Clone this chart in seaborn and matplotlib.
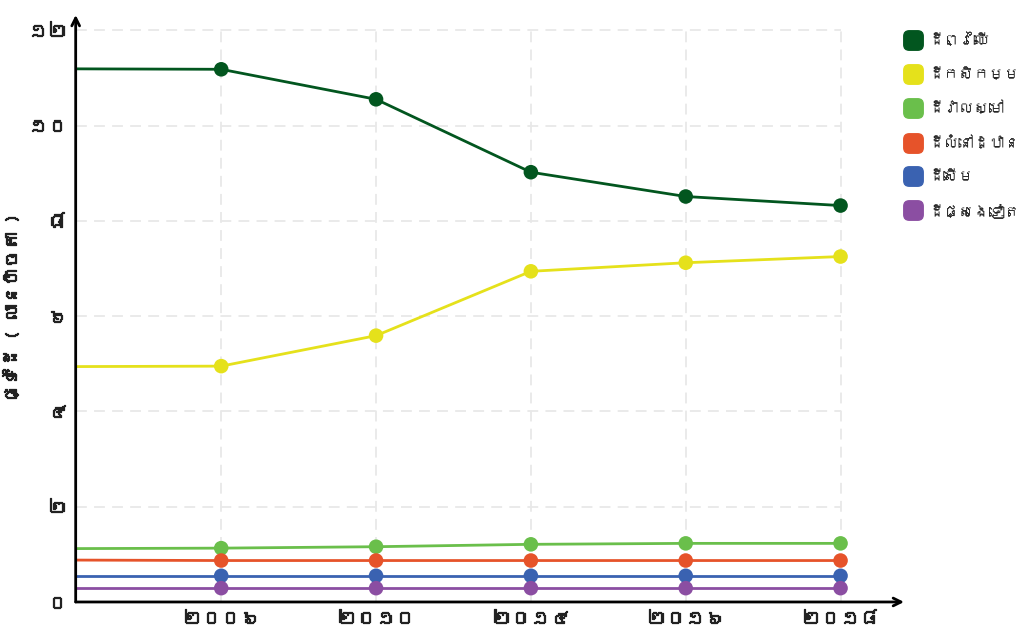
import numpy as np
import pandas as pd
import matplotlib
matplotlib.use("Agg")
import matplotlib.pyplot as plt
import matplotlib.patches as mpatches
import matplotlib.patheffects as pe
from matplotlib import font_manager
from matplotlib.ft2font import FT2Font
from matplotlib.lines import Line2D
import seaborn as sns

# ---- data ----
years = ["", "២០០៦", "២០១០", "២០១៤", "២០១៦", "២០១៨"]
series_names = ["ដីព្រៃឈើ", "ដីកសិកម្ម", "ដីវាលស្មៅ", "ដីលំនៅដ្ឋាន", "ដីសើម", "ដីផ្សេងទៀត"]
forest = [11.19, 11.18, 10.55, 9.02, 8.51, 8.32]
agri = [4.94, 4.95, 5.59, 6.94, 7.12, 7.25]
grass = [1.12, 1.13, 1.16, 1.21, 1.23, 1.23]
resid = [0.88, 0.87, 0.87, 0.87, 0.87, 0.87]
wet = [0.55, 0.55, 0.55, 0.55, 0.55, 0.55]
other = [0.29, 0.29, 0.29, 0.29, 0.29, 0.29]
ytick_vals = [0, 2, 4, 6, 8, 10, 12]
ytick_labels = ["០", "២", "៤", "៦", "៨", "១០", "១២"]
ylabel = "ផ្ទៃដី ( លានហិចតា )"
colors = ["#02561f", "#e5e11b", "#6abf4b", "#e6532a", "#3a62b1", "#8b4ea2"]

# ---- font search for Khmer ----
def find_khmer_fonts():
    found = []
    for f in font_manager.fontManager.ttflist:
        try:
            cm = FT2Font(f.fname).get_charmap()
            if 0x1780 in cm and f.name not in found:
                found.append(f.name)
        except Exception:
            pass
    return found

sns.set_theme(style="white")
kh = find_khmer_fonts()
plt.rcParams['font.family'] = kh + ['DejaVu Sans']

all_vals = [forest, agri, grass, resid, wet, other]
rows = []
for name, vals in zip(series_names, all_vals):
    for i, (yr, v) in enumerate(zip(years, vals)):
        rows.append({"x": i, "year": yr, "series": name, "value": v})
df = pd.DataFrame(rows)
pal = dict(zip(series_names, colors))

fig = plt.figure(figsize=(10.2, 6.32), dpi=100)
ax = fig.add_axes([0.0742, 0.0475, 0.8121, 0.9288])

x_left, x_right = 0.06, 5.41
y_top = 12.32
ax.set_xlim(x_left, x_right)
ax.set_ylim(0, y_top)

# grid
last_x = len(years) - 1
for yv in ytick_vals[1:]:
    ax.hlines(yv, x_left, last_x, colors="#e8e8e8", lw=1.3, linestyles=(0, (6, 4)), zorder=0)
for xv in range(1, len(years)):
    ax.vlines(xv, 0, ytick_vals[-1], colors="#e8e8e8", lw=1.3, linestyles=(0, (6, 4)), zorder=0)

sns.lineplot(data=df, x="x", y="value", hue="series", palette=pal, lw=2,
             legend=False, ax=ax, zorder=3)
sns.scatterplot(data=df[df["x"] > 0], x="x", y="value", hue="series", palette=pal,
                s=110, edgecolor="none", legend=False, ax=ax, zorder=4)

for s in ax.spines.values():
    s.set_visible(False)
ax.annotate("", xy=(1.0, 0), xytext=(0, 0), xycoords="axes fraction",
            arrowprops=dict(arrowstyle="->", lw=2, color="black", shrinkA=0, shrinkB=0,
                            mutation_scale=14))
ax.annotate("", xy=(0, 1.0), xytext=(0, 0), xycoords="axes fraction",
            arrowprops=dict(arrowstyle="->", lw=2, color="black", shrinkA=0, shrinkB=0,
                            mutation_scale=14))

bold = [pe.withStroke(linewidth=0.9, foreground="#222222")]
ax.set_xticks(range(1, len(years)))
ax.set_xticklabels(years[1:], fontsize=14, color="#222222")
ax.set_yticks(ytick_vals)
ax.set_yticklabels(ytick_labels, fontsize=14, color="#222222")
for t in ax.get_xticklabels() + ax.get_yticklabels():
    t.set_path_effects(bold)
ax.tick_params(axis="both", length=0, pad=6)
ax.set_xlabel("")
ax.set_ylabel(ylabel, fontsize=13, color="#222222")
ax.yaxis.label.set_path_effects(bold)
ax.yaxis.set_label_coords(-0.068, 0.5)

# legend with rounded-square markers
box = mpatches.FancyBboxPatch((-0.5, -0.5), 1, 1,
                              boxstyle="round,pad=0,rounding_size=0.28")
rpath = box.get_path()
handles = [Line2D([], [], marker=rpath, color=c, markersize=14, linestyle="none")
           for c in colors]
fig.legend(handles, series_names, loc="upper left", bbox_to_anchor=(0.882, 0.958),
           frameon=False, fontsize=11, handlelength=1.0, handletextpad=0.5,
           labelspacing=1.3, borderaxespad=0)

fig.savefig("out.png", dpi=100)
